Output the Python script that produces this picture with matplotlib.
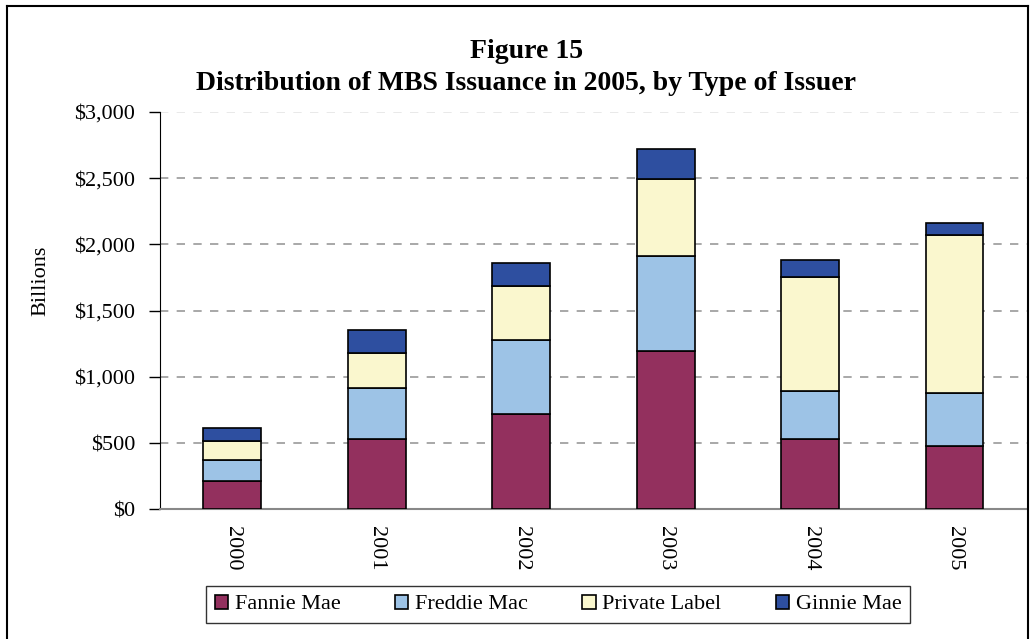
import numpy as np
import matplotlib
matplotlib.use("Agg")
import matplotlib.pyplot as plt
from matplotlib.lines import Line2D
from matplotlib.ticker import FuncFormatter

# values (billions of dollars)
years = ["2000", "2001", "2002", "2003", "2004", "2005"]
fannie = [216, 530, 716, 1194, 532, 480]
freddie = [156, 387, 561, 716, 360, 399]
private = [145, 264, 409, 581, 858, 1190]
ginnie = [94, 171, 174, 227, 135, 95]

series = [
    ("Fannie Mae", fannie, "#93305E"),
    ("Freddie Mac", freddie, "#9DC3E6"),
    ("Private Label", private, "#FAF7CE"),
    ("Ginnie Mae", ginnie, "#2E4FA0"),
]

plt.rcParams['font.family'] = ['Liberation Serif', 'DejaVu Serif']

fig = plt.figure(figsize=(10.32, 6.39), dpi=100)
ax = fig.add_axes([0.155, 0.203, 0.84, 0.622])

x = np.arange(len(years))
bottom = np.zeros(len(years))
for name, vals, color in series:
    ax.bar(x, vals, width=0.4, bottom=bottom, color=color, edgecolor="black",
           linewidth=1.2, label=name, zorder=3)
    bottom += np.array(vals)

ax.set_xlim(-0.5, len(years) - 0.5)
ax.set_ylim(0, 3000)
ax.set_yticks(np.arange(0, 3001, 500))
ax.yaxis.set_major_formatter(FuncFormatter(lambda v, p: f"${v:,.0f}"))
ax.set_xticks(x)
ax.set_xticklabels(years, rotation=-90, fontsize=16)
ax.tick_params(axis="x", length=0, pad=12)
ax.tick_params(axis="y", length=8, width=1, direction="out", labelsize=16, pad=10)

ax.yaxis.grid(True, linestyle=(0, (5, 5)), color="#999999", linewidth=1.2, zorder=0)
ax.get_ygridlines()[-1].set_alpha(0.25)  # top line is very faint in the original
for s in ["top", "right"]:
    ax.spines[s].set_visible(False)
ax.spines["left"].set_color("black")
ax.spines["bottom"].set_color("#888888")
ax.spines["bottom"].set_linewidth(1.5)

fig.text(0.04, 0.56, "Billions", rotation=90, fontsize=16, ha="center", va="center")

fig.text(0.51, 0.92, "Figure 15", fontsize=20, fontweight="bold", ha="center", va="center")
fig.text(0.51, 0.87, "Distribution of MBS Issuance in 2005, by Type of Issuer",
         fontsize=20, fontweight="bold", ha="center", va="center")

leg = fig.legend(loc="center", ncol=4, bbox_to_anchor=(0.189, 0.017, 0.704, 0.074),
                 mode="expand", fontsize=16, frameon=True, fancybox=False,
                 handlelength=0.6, handleheight=0.6, handletextpad=0.3,
                 borderpad=0.4, edgecolor="black")
leg.get_frame().set_linewidth(1.0)

# outer frame of the exhibit
fx0, fx1, fy1 = 7 / 1032, 1028 / 1032, 1 - 6 / 639
for xs, ys in [([fx0, fx0], [0, fy1]), ([fx0, fx1], [fy1, fy1]), ([fx1, fx1], [fy1, 0])]:
    fig.add_artist(Line2D(xs, ys, color="black", linewidth=1.5, transform=fig.transFigure))

fig.savefig("out.png", dpi=100)
